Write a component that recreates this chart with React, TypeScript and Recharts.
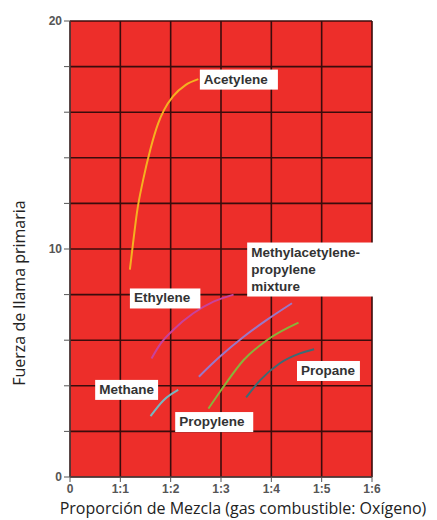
import { CartesianGrid, Line, LineChart, ReferenceDot, XAxis, YAxis } from "recharts";

// x = gas:oxygen ratio (1:x), y = primary flame intensity
const acetylene = [
  { x: 1.19, y: 9.1 },
  { x: 1.25, y: 10.2 },
  { x: 1.33, y: 11.6 },
  { x: 1.45, y: 13.0 },
  { x: 1.6, y: 14.4 },
  { x: 1.75, y: 15.5 },
  { x: 1.87, y: 16.1 },
  { x: 2.05, y: 16.7 },
  { x: 2.3, y: 17.2 },
  { x: 2.55, y: 17.45 },
];
const ethylene = [
  { x: 1.62, y: 5.2 },
  { x: 1.8, y: 5.85 },
  { x: 2.05, y: 6.45 },
  { x: 2.45, y: 7.18 },
  { x: 2.85, y: 7.69 },
  { x: 3.25, y: 8.0 },
];
const mixture = [
  { x: 2.56, y: 4.4 },
  { x: 2.98, y: 5.28 },
  { x: 3.45, y: 6.15 },
  { x: 3.91, y: 6.89 },
  { x: 4.41, y: 7.62 },
];
const propylene = [
  { x: 2.75, y: 3.0 },
  { x: 3.05, y: 3.96 },
  { x: 3.45, y: 5.13 },
  { x: 3.91, y: 6.0 },
  { x: 4.54, y: 6.77 },
];
const propane = [
  { x: 3.5, y: 3.49 },
  { x: 3.78, y: 4.25 },
  { x: 4.17, y: 4.99 },
  { x: 4.57, y: 5.42 },
  { x: 4.85, y: 5.6 },
];
const methane = [
  { x: 1.6, y: 2.67 },
  { x: 1.86, y: 3.37 },
  { x: 2.15, y: 3.82 },
];

const xTicks = [0, 1, 2, 3, 4, 5, 6];
const yTicks = [0, 2, 4, 6, 8, 10, 12, 14, 16, 18, 20];
const yLabelled = [0, 10, 20];

// annotation boxes: left edge / vertical middle in data units
const notes = [
  { x: 2.58, y: 17.43, lines: ["Acetylene"] },
  { x: 1.19, y: 7.83, lines: ["Ethylene"] },
  { x: 3.52, y: 9.1, lines: ["Methylacetylene-", "propylene", "mixture"] },
  { x: 0.5, y: 3.82, lines: ["Methane"] },
  { x: 2.09, y: 2.41, lines: ["Propylene"] },
  { x: 4.51, y: 4.65, lines: ["Propane"] },
];

const series = [
  { name: "Acetylene", data: acetylene, color: "#f5b120" },
  { name: "Ethylene", data: ethylene, color: "#c8429c" },
  { name: "Mixture", data: mixture, color: "#9a78c8" },
  { name: "Propylene", data: propylene, color: "#88b43a" },
  { name: "Propane", data: propane, color: "#3a6c76" },
  { name: "Methane", data: methane, color: "#78b8c0" },
];

const NOTE_FONT = 13.5;
const LINE_H = 17;

function NoteBox({ cx, cy, lines }: any) {
  const longest = Math.max(...lines.map((l: string) => l.length));
  const w = longest * NOTE_FONT * 0.56 + 10;
  const h = lines.length * LINE_H + 3;
  const top = cy - h / 2;
  return (
    <g>
      <rect x={cx} y={top} width={w} height={h} fill="#fff" />
      {lines.map((l: string, i: number) => (
        <text
          key={i}
          x={cx + 4}
          y={top + LINE_H * (i + 1) - 3}
          fontFamily="Liberation Sans, Arial, sans-serif"
          fontWeight="bold"
          fontSize={NOTE_FONT}
          fill="#333"
        >
          {l}
        </text>
      ))}
    </g>
  );
}

const tickStyle = {
  fontFamily: "Liberation Sans, Arial, sans-serif",
  fontWeight: "bold",
  fontSize: 12,
  fill: "#555",
};

export default function App() {
  return (
    <div style={{ position: "fixed", left: 0, top: 0, background: "#fff" }}>
      <LineChart
        width={437}
        height={520}
        margin={{ top: 21, right: 65, bottom: 0, left: 44 }}
      >
        <CartesianGrid
          fill="#ed2e2a"
          stroke="#3a0c0c"
          strokeWidth={1.6}
          horizontalValues={yTicks}
          verticalValues={xTicks}
        />
        <XAxis
          type="number"
          dataKey="x"
          domain={[0, 6]}
          ticks={xTicks}
          tickFormatter={(v) => (v === 0 ? "0" : `1:${v}`)}
          height={43}
          tickSize={5}
          tickMargin={2}
          stroke="#555"
          tick={tickStyle}
          allowDuplicatedCategory={false}
          label={{
            content: ({ viewBox }: any) => (
              <text
                x={viewBox.x + viewBox.width / 2 + 22}
                y={viewBox.y + 37}
                textAnchor="middle"
                fontFamily="Open Sans, sans-serif"
                fontSize={16}
                fill="#222"
              >
                Proporción de Mezcla (gas combustible: Oxígeno)
              </text>
            ),
          }}
        />
        <YAxis
          type="number"
          domain={[0, 20]}
          ticks={yTicks}
          tickFormatter={(v) => (yLabelled.includes(v) ? String(v) : "")}
          width={26}
          tickSize={6}
          tickMargin={2}
          stroke="#555"
          tick={tickStyle}
          label={{
            content: () => (
              <text
                x={19}
                y={293}
                transform="rotate(-90 19 293)"
                textAnchor="middle"
                dominantBaseline="central"
                fontFamily="Open Sans, sans-serif"
                fontSize={16}
                fill="#222"
              >
                Fuerza de llama primaria
              </text>
            ),
          }}
        />
        {series.map((s) => (
          <Line
            key={s.name}
            data={s.data}
            dataKey="y"
            type="monotone"
            stroke={s.color}
            strokeWidth={2}
            dot={false}
            isAnimationActive={false}
          />
        ))}
        {notes.map((n) => (
          <ReferenceDot
            key={n.lines[0]}
            x={n.x}
            y={n.y}
            r={0}
            shape={(p: any) => <NoteBox {...p} lines={n.lines} />}
          />
        ))}
      </LineChart>
    </div>
  );
}
